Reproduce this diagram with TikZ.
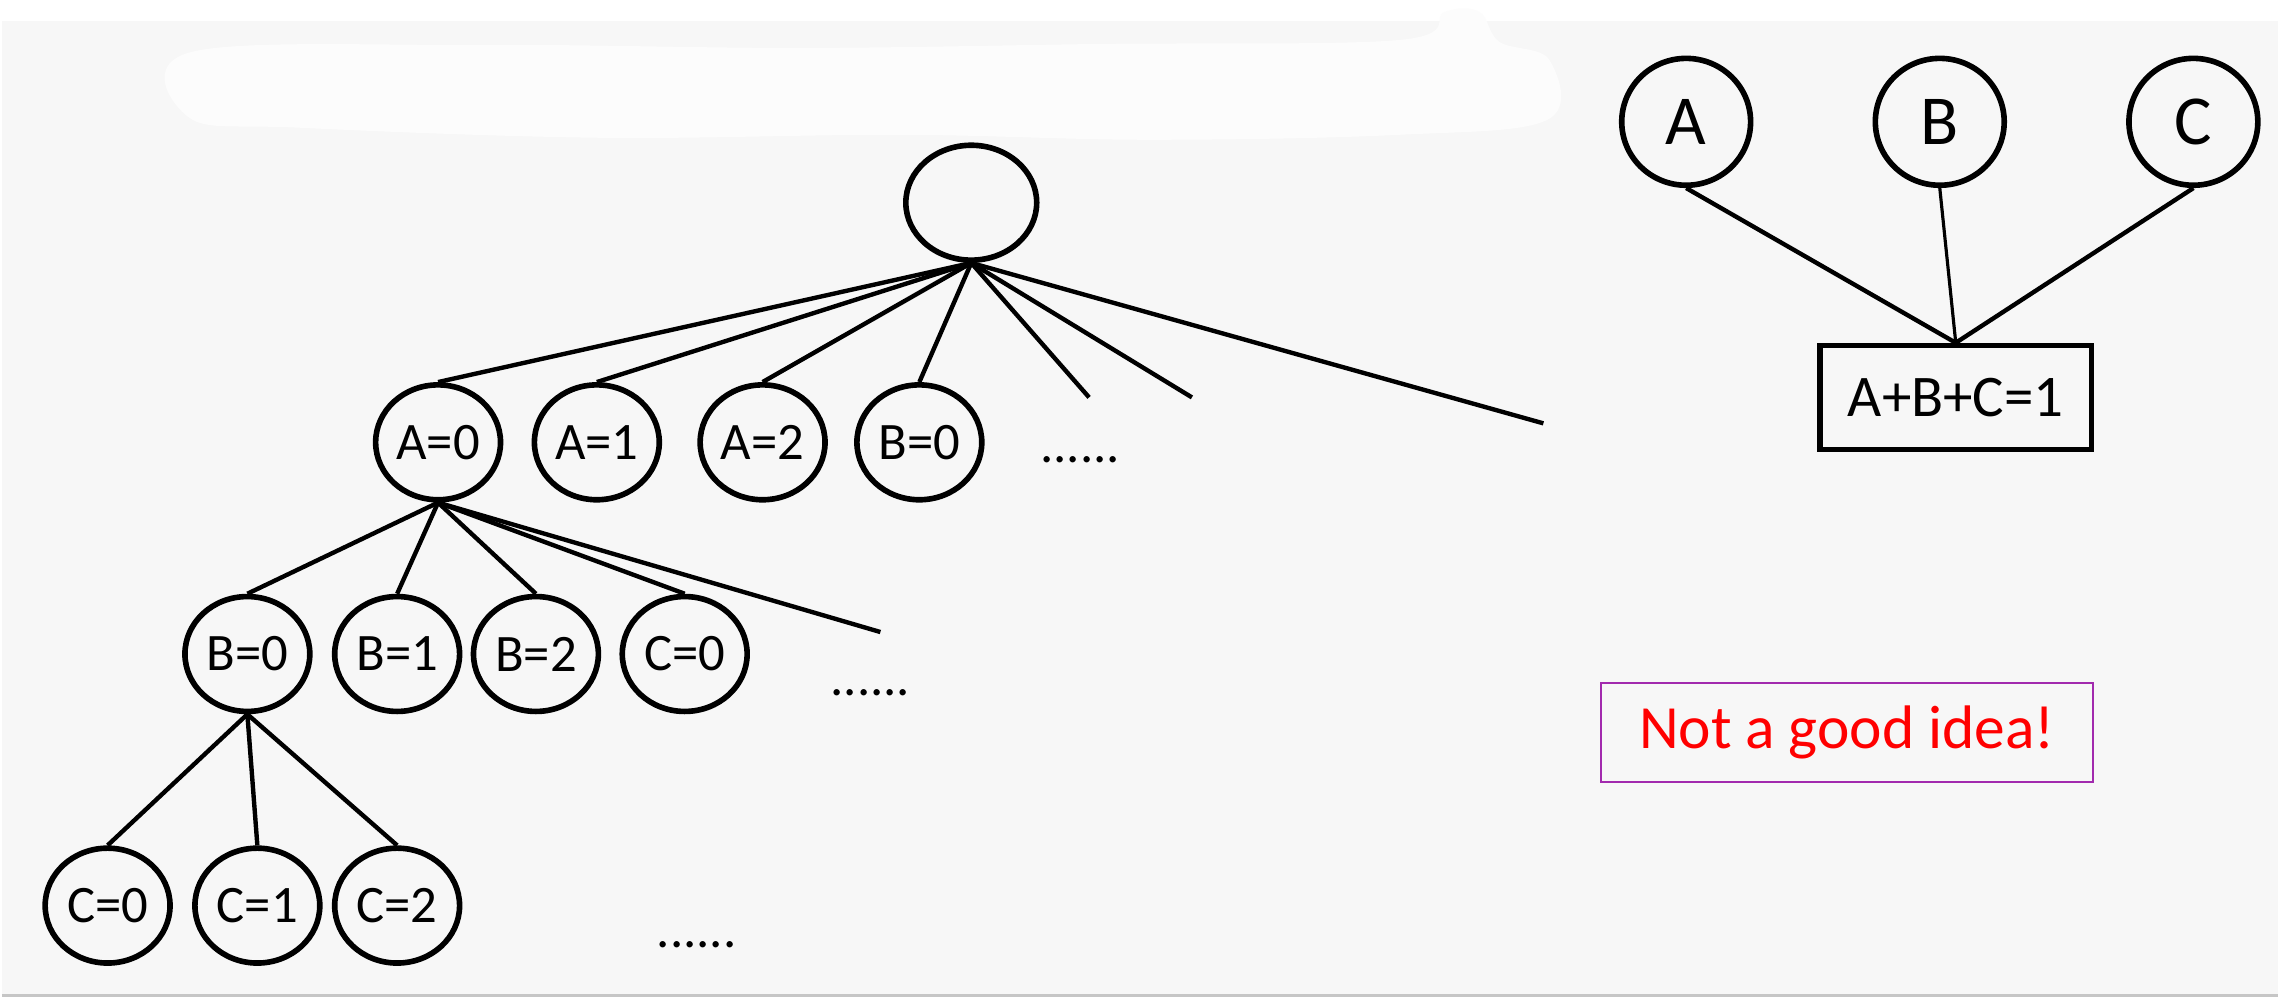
\documentclass[tikz,border=0pt]{standalone}
\usepackage{fontspec}
\setmainfont{Carlito}
\usetikzlibrary{shapes.geometric}

\definecolor{bggray}{HTML}{F7F7F7}
\definecolor{blobwhite}{HTML}{FCFCFC}
\definecolor{notepurple}{HTML}{A22AAE}

\begin{document}
\begin{tikzpicture}[x=0.01cm, y=-0.01cm,
    val/.style={ellipse, draw, line width=1.6pt, minimum width=1.25cm, minimum height=1.15cm, inner sep=0pt, font=\fontsize{15}{18}\selectfont},
    var/.style={ellipse, draw, line width=1.6pt, minimum width=1.29cm, minimum height=1.27cm, inner sep=0pt, font=\fontsize{20}{24}\selectfont},
    more/.style={anchor=base, inner sep=0pt, font=\fontsize{15}{18}\selectfont},
    branch/.style={line width=1.25pt}]

    % Background
    \fill [white] (0,0) rectangle (2280,1000);
    \fill [bggray] (0,21) rectangle (2280,996);
    \draw [gray!45, line width=1pt] (0,997) -- (2280,997);
    \fill [blobwhite] plot [smooth cycle, tension=0.6] coordinates
        {(190,52) (480,45) (800,48) (1100,44) (1400,40) (1445,12) (1480,12) (1500,42) (1550,60)
         (1548,120) (1400,135) (1150,140) (900,135) (600,138) (300,128) (188,118)};

    % Nodes {root, level 1, level 2, level 3}
    \node [val, minimum width=1.31cm] (root) at (971,203) {};

    \node [val] (a0) at (437,443) {A=0};
    \node [val] (a1) at (596,443) {A=1};
    \node [val] (a2) at (762,443) {A=2};
    \node [val] (b0) at (919,443) {B=0};
    \node [more] (more1) at (1080,463) {......};

    \node [val] (a0b0) at (246,655) {B=0};
    \node [val] (a0b1) at (396,655) {B=1};
    \node [val] (a0b2) at (535,655) {B=2};
    \node [val] (a0c0) at (684,655) {C=0};
    \node [more] (more2) at (870,697) {......};

    \node [val] (b0c0) at (106,907) {C=0};
    \node [val] (b0c1) at (256,907) {C=1};
    \node [val] (b0c2) at (396,907) {C=2};
    \node [more] (more3) at (696,949) {......};

    % Open branches
    \coordinate (r1) at (1089,398);
    \coordinate (r2) at (1192,398);
    \coordinate (r3) at (1544,424);
    \coordinate (s1) at (880,633);

    % Nodes {A, B, C, constraint, note}
    \node [var] (va) at (1687,122) {A};
    \node [var] (vb) at (1941,122) {B};
    \node [var] (vc) at (2195,122) {C};
    \node [draw, line width=1.5pt, minimum width=2.72cm, minimum height=1.04cm, font=\fontsize{16.8}{20}\selectfont] (sum) at (1957,398) {A+B+C=1};
    \node [draw=notepurple, line width=0.6pt, minimum width=4.92cm, minimum height=0.99cm, text=red, font=\fontsize{17.5}{21}\selectfont] (note) at (1848,734) {Not a good idea!};

    % Paths
    \path [branch] (root.south) edge (a0.north);
    \path [branch] (root.south) edge (a1.north);
    \path [branch] (root.south) edge (a2.north);
    \path [branch] (root.south) edge (b0.north);
    \path [branch] (root.south) edge (r1);
    \path [branch] (root.south) edge (r2);
    \path [branch] (root.south) edge (r3);

    \path [branch] (a0.south) edge (a0b0.north);
    \path [branch] (a0.south) edge (a0b1.north);
    \path [branch] (a0.south) edge (a0b2.north);
    \path [branch] (a0.south) edge (a0c0.north);
    \path [branch] (a0.south) edge (s1);

    \path [branch] (a0b0.south) edge (b0c0.north);
    \path [branch] (a0b0.south) edge (b0c1.north);
    \path [branch] (a0b0.south) edge (b0c2.north);

    \path [branch] (va.south) edge (sum.north);
    \path [branch, line width=0.9pt] (vb.south) edge (sum.north);
    \path [branch] (vc.south) edge (sum.north);

\end{tikzpicture}
\end{document}
